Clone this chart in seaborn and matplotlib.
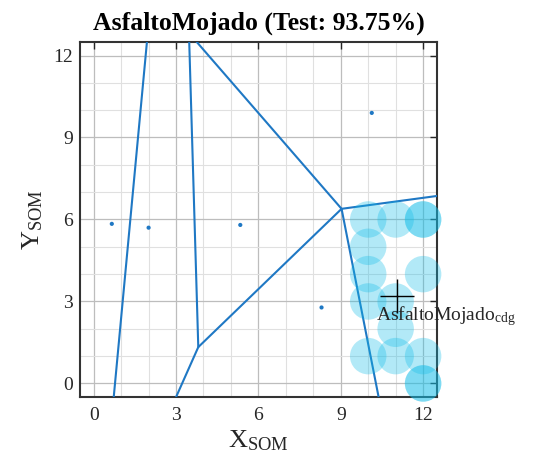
import numpy as np
import pandas as pd
import matplotlib
matplotlib.use('Agg')
import matplotlib.pyplot as plt
from matplotlib.ticker import MultipleLocator
import seaborn as sns

# ── DATA ────────────────────────────────────────────────────────────────────
# test samples mapped on the SOM (duplicates stack -> darker)
hit_x = [10, 11, 12, 12, 10, 10, 12, 10, 11, 11, 10, 11, 12, 12, 12]
hit_y = [6, 6, 6, 6, 5, 4, 4, 3, 3, 2, 1, 1, 1, 0, 0]

# other neuron prototypes (small dots)
node_x = [0.66, 2.0, 5.34, 10.13, 8.3]
node_y = [5.84, 5.7, 5.8, 9.9, 2.78]

# voronoi edges
edge_id = ['a', 'a', 'b', 'b', 'b', 'c', 'c', 'd', 'd', 'e', 'e', 'f', 'f']
edge_x  = [0.73, 1.94, 3.48, 3.81, 3.0, 3.81, 9.03, 3.75, 9.03, 9.03, 12.5, 9.03, 10.38]
edge_y  = [-0.5, 12.5, 12.5, 1.33, -0.5, 1.33, 6.39, 12.5, 6.39, 6.39, 6.86, 6.39, -0.5]

CLASS_NAME = 'AsfaltoMojado'
TEST_ACC   = 93.75

# ── STYLE ───────────────────────────────────────────────────────────────────
sns.set_style('white')
plt.rcParams['font.family'] = ['Liberation Serif', 'DejaVu Serif']
plt.rcParams['mathtext.fontset'] = 'custom'
plt.rcParams['mathtext.rm'] = 'Liberation Serif'
plt.rcParams['mathtext.it'] = 'Liberation Serif:italic'

LINE_C = '#1f78c4'
HIT_C  = '#12bde8'
TXT_C  = '#262626'

fig = plt.figure(figsize=(5.44, 4.65), dpi=100)
ax = fig.add_axes([0.147, 0.146, 0.656, 0.764])

edges = pd.DataFrame({'id': edge_id, 'x': edge_x, 'y': edge_y})
sns.lineplot(data=edges, x='x', y='y', units='id', estimator=None, sort=False,
             color=LINE_C, lw=1.5, ax=ax, zorder=3)

sns.scatterplot(x=node_x, y=node_y, color=LINE_C, s=9, edgecolor='none', ax=ax, zorder=4)

sns.scatterplot(x=hit_x, y=hit_y, color=HIT_C, s=690, alpha=0.32,
                edgecolor='none', ax=ax, zorder=5, clip_on=False)

# centre of gravity of the class hits
cx, cy = np.mean(hit_x), np.mean(hit_y)
ax.plot(cx, cy, marker='+', color='black', ms=24, mew=1.0, zorder=6)
ax.text(cx - 0.8, cy - 0.3, CLASS_NAME + r'$_{\mathrm{cdg}}$', ha='left', va='top',
        fontsize=14, color=TXT_C, zorder=7)

ax.set_xlim(-0.5, 12.5)
ax.set_ylim(-0.5, 12.5)
ax.xaxis.set_major_locator(MultipleLocator(3))
ax.yaxis.set_major_locator(MultipleLocator(3))
ax.xaxis.set_minor_locator(MultipleLocator(1))
ax.yaxis.set_minor_locator(MultipleLocator(1))
ax.grid(which='minor', color='#e0e0e0', lw=0.8, zorder=0)
ax.grid(which='major', color='#bdbdbd', lw=0.9, zorder=0)
ax.set_axisbelow(True)
ax.tick_params(which='major', direction='in', top=True, right=True, length=5,
               width=1, labelsize=14, colors=TXT_C)
ax.tick_params(axis='x', which='major', pad=7)
ax.tick_params(axis='y', which='major', pad=5)
ax.tick_params(which='minor', length=0)
for s in ax.spines.values():
    s.set_color('#333333')
    s.set_linewidth(1.5)

ax.set_xlabel(r'X$_{\mathrm{SOM}}$', fontsize=19, color=TXT_C, labelpad=3)
ax.set_ylabel(r'Y$_{\mathrm{SOM}}$', fontsize=19, color=TXT_C, labelpad=6)
ax.set_title(f'{CLASS_NAME} (Test: {TEST_ACC:.2f}%)', fontsize=18.5, fontweight='bold',
             color='black', pad=9)

fig.savefig('out.png', dpi=100)
plt.close()
